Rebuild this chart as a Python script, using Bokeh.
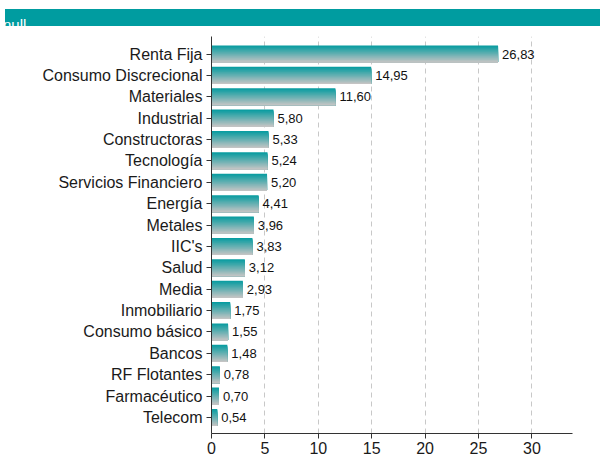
from bokeh.plotting import figure
from bokeh.models import Range1d, FixedTicker, Div
from bokeh.layouts import column
from bokeh.embed import file_html
from bokeh.resources import INLINE
from bokeh.core.properties import value

categories = ["Renta Fija", "Consumo Discrecional", "Materiales", "Industrial",
              "Constructoras", "Tecnología", "Servicios Financiero", "Energía",
              "Metales", "IIC's", "Salud", "Media", "Inmobiliario",
              "Consumo básico", "Bancos", "RF Flotantes", "Farmacéutico", "Telecom"]
values = [26.83, 14.95, 11.60, 5.80, 5.33, 5.24, 5.20, 4.41, 3.96, 3.83,
          3.12, 2.93, 1.75, 1.55, 1.48, 0.78, 0.70, 0.54]
x_ticks = [0, 5, 10, 15, 20, 25, 30]
title_text = "null"

n = len(categories)
ypos = [n - 1 - i for i in range(n)]
labels = [f"{v:.2f}".replace(".", ",") for v in values]

FONT = "Liberation Sans"

p = figure(width=600, height=423, output_backend="svg", toolbar_location=None,
           x_range=Range1d(0, 33.8), y_range=Range1d(-0.75, n - 1 + 0.82),
           min_border_left=211, min_border_right=28, min_border_top=0,
           min_border_bottom=26)

# gradient bars: each layer spans from its top edge down to the bar bottom,
# drawn top colour first so later (greyer) layers cover the lower part.
top_c = (8, 156, 160)
bot_c = (196, 196, 196)
bar_h = 0.8
strips = 20
for k in range(strips):
    f = k / (strips - 1)
    c = tuple(int(round(top_c[j] + (bot_c[j] - top_c[j]) * f)) for j in range(3))
    col = "#%02x%02x%02x" % c
    layer_h = bar_h * (strips - k) / strips
    ys = [y - bar_h / 2 + layer_h / 2 for y in ypos]
    p.hbar(y=ys, left=0, right=values, height=layer_h,
           fill_color=col, line_color=None)

p.text(x=values, y=ypos, text=labels, x_offset=4, text_baseline="middle",
       text_align="left", text_font_size="13px", text_font=value(FONT),
       text_color="#111111")

p.xgrid.ticker = FixedTicker(ticks=x_ticks[1:])
p.xgrid.grid_line_color = "#c8c8c8"
p.xgrid.grid_line_dash = "5 4"
p.xgrid.grid_line_width = 1
p.ygrid.visible = False
p.outline_line_color = None

p.xaxis.ticker = FixedTicker(ticks=x_ticks)
p.yaxis.ticker = FixedTicker(ticks=ypos)
p.yaxis.major_label_overrides = {y: c for y, c in zip(ypos, categories)}
for ax in (p.xaxis, p.yaxis):
    ax.minor_tick_line_color = None
    ax.major_tick_in = 0
    ax.major_tick_out = 5
    ax.axis_line_color = "#333333"
    ax.major_tick_line_color = "#333333"
    ax.major_label_text_font = FONT
    ax.major_label_text_font_size = "16px"
    ax.major_label_text_color = "#1a1a1a"
p.yaxis.major_label_standoff = 4
p.xaxis.major_label_standoff = 3

header = Div(width=600, height=26, text=(
    '<div style="position:relative;width:600px;height:26px;overflow:visible;">'
    '<div style="position:absolute;left:0px;top:4px;width:600px;height:17px;'
    'background:#009ca0;"></div>'
    '<span style="position:absolute;left:-2px;top:12px;color:#ffffff;'
    "font-family:'Liberation Sans',Arial,sans-serif;font-size:15px;line-height:15px;\">"
    + title_text + '</span></div>'))

layout = column(header, p, spacing=0)

open("out.html", "w").write(file_html(layout, INLINE))
